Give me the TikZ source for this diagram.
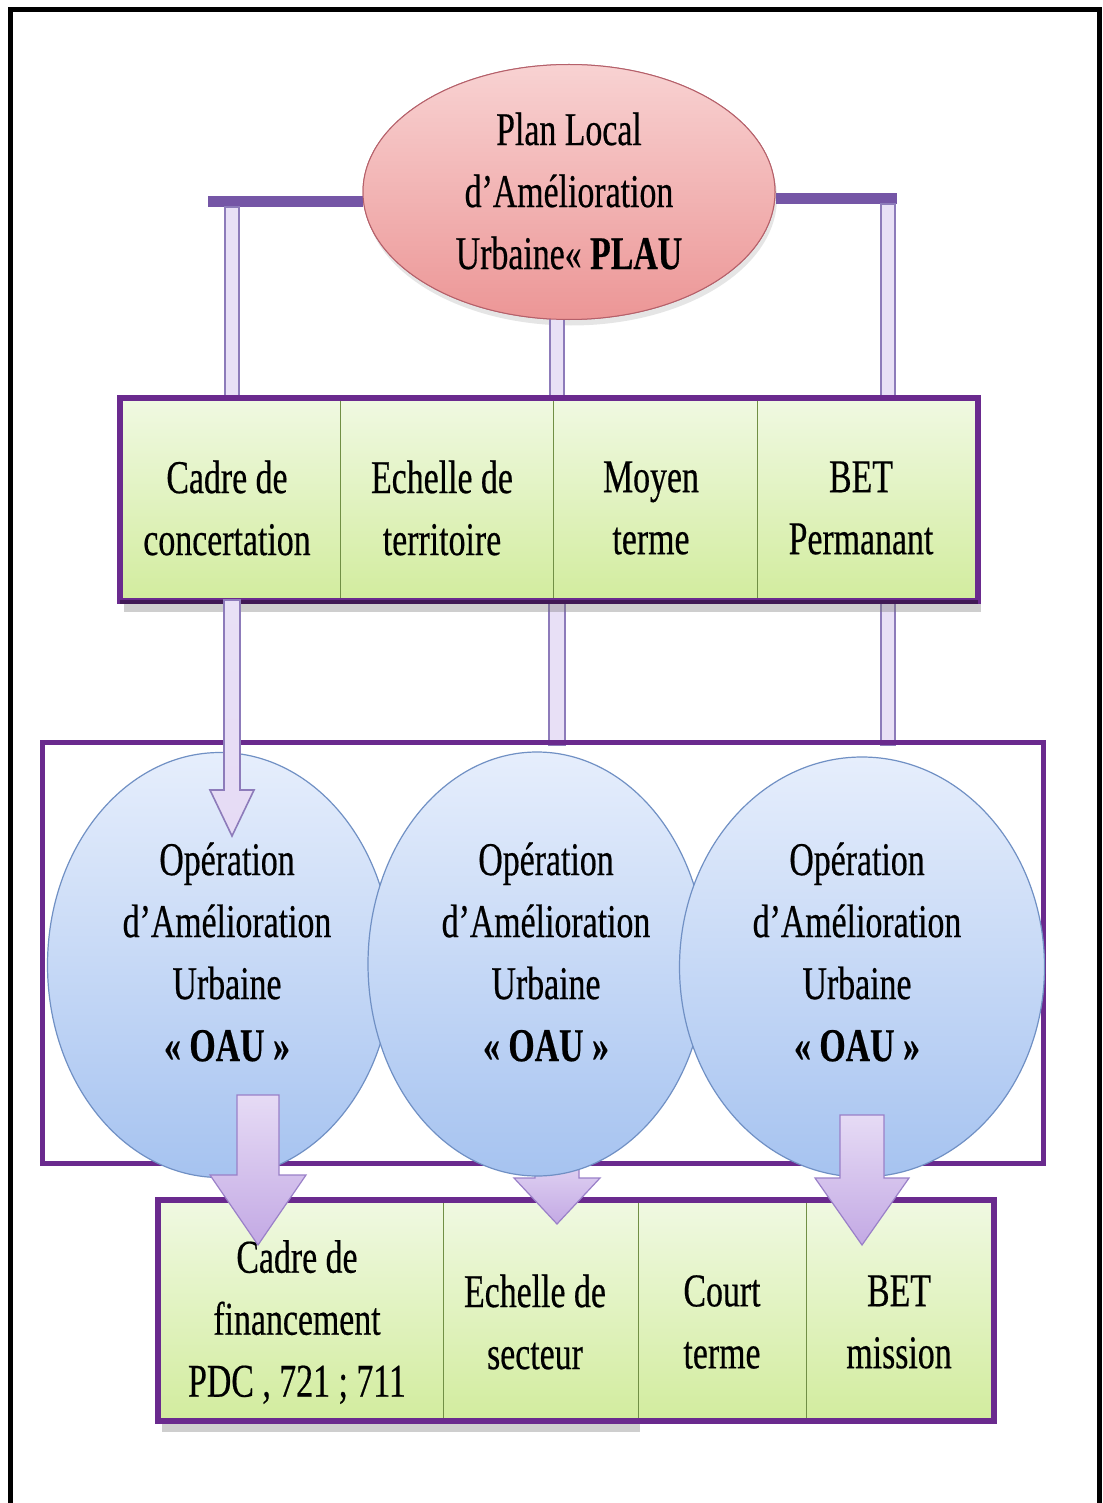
\documentclass[tikz,border=0pt]{standalone}
\usepackage{fontspec}
\newfontfamily\tf{Liberation Serif}[FakeStretch=0.72,FakeBold=0.4]
\usetikzlibrary{calc,shadows,shapes.geometric}
\definecolor{purp}{HTML}{6A2A8E}
\definecolor{barp}{HTML}{7556A6}
\definecolor{connf}{HTML}{E8E0F6}
\definecolor{conne}{HTML}{8D7BBA}
\definecolor{gtop}{HTML}{F0F9E2}
\definecolor{gbot}{HTML}{D2EC9E}
\definecolor{gline}{HTML}{718F45}
\definecolor{ptop}{HTML}{F8D2D2}
\definecolor{pbot}{HTML}{EC9696}
\definecolor{pedge}{HTML}{B5606A}
\definecolor{btop}{HTML}{E6EEFC}
\definecolor{bbot}{HTML}{A6C3F0}
\definecolor{bedge}{HTML}{7090C4}
\definecolor{atop}{HTML}{E6DBF5}
\definecolor{abot}{HTML}{C3A9E4}
\definecolor{aedge}{HTML}{9A80C8}
\tikzset{
  txt/.style={font=\tf\fontsize{47}{62}\selectfont, align=center, inner sep=0pt},
  cell/.style={draw=gline, line width=1.2pt, top color=gtop, bottom color=gbot, inner sep=0pt, anchor=north west},
  boxframe/.style={draw=purp, line width=6pt},
  conn/.style={fill=connf, draw=conne, line width=2pt},
  bar/.style={draw=barp, line width=11pt},
  blk/.style={top color=atop, bottom color=abot, draw=aedge, line width=1.2pt},
  oau/.style={ellipse, draw=bedge, line width=1.2pt, top color=btop, bottom color=bbot, inner sep=0pt}
}
\begin{document}
\begin{tikzpicture}[x=1pt,y=-1pt]
\useasboundingbox (0,0) rectangle (1102,1503);
\fill[white] (0,0) rectangle (1102,1503);
% outer frame
\coordinate (fbl) at (10.5,1503);
\coordinate (ftl) at (10.5,9.5);
\coordinate (ftr) at (1099.5,9.5);
\coordinate (fbr) at (1099.5,1503);
\draw[line width=5pt, black] (fbl) -- (ftl) -- (ftr) -- (fbr);

% upper connector anchors
\coordinate (bl) at (208,202);
\coordinate (br) at (897,199);
\coordinate (vl) at (232,207);
\coordinate (vr) at (888,204);
\coordinate (vlb) at (232,398);
\coordinate (vrb) at (888,398);
\coordinate (vm) at (557,300);
\coordinate (vmb) at (557,398);

% ellipse
\node[ellipse, minimum width=412pt, minimum height=255pt, inner sep=0pt,
      draw=pedge, line width=1pt, top color=ptop, bottom color=pbot,
      drop shadow={shadow xshift=2pt, shadow yshift=-6pt, opacity=0.2, fill=black!50}] (plau) at (569,192) {};

\draw[bar] (bl) -- (plau.west |- bl);
\draw[bar] (br) -- (plau.east |- br);
\draw[conn] ($(vl)+(-7,0)$) rectangle ($(vlb)+(7,0)$);
\draw[conn] ($(vr)+(-7,0)$) rectangle ($(vrb)+(7,0)$);
\draw[conn] ($(vm)+(-7,0)$) rectangle ($(vmb)+(7,0)$);

% redraw ellipse on top of bars
\node[ellipse, minimum width=412pt, minimum height=255pt, inner sep=0pt,
      draw=pedge, line width=1pt, top color=ptop, bottom color=pbot] (plau2) at (569,192) {};
\node[txt] (plaut) at (569,191) {Plan Local\\d’Amélioration\\Urbaine« \textbf{PLAU}};

% connectors from top box to middle box
\coordinate (mt) at (557,600);
\coordinate (mb) at (557,745);
\coordinate (rt) at (888,600);
\coordinate (rb) at (888,745);
\draw[conn] ($(mt)+(-8,0)$) rectangle ($(mb)+(8,0)$);
\draw[conn] ($(rt)+(-7,0)$) rectangle ($(rb)+(7,0)$);

% top box
\fill[black!55, opacity=0.35] (124,604) rectangle (981,612);
\node[cell, minimum width=220pt, minimum height=202pt] (t1) at (120,398) {};
\node[cell, minimum width=213pt, minimum height=202pt] (t2) at (340,398) {};
\node[cell, minimum width=204pt, minimum height=202pt] (t3) at (553,398) {};
\node[cell, minimum width=220pt, minimum height=202pt] (t4) at (757,398) {};
\draw[boxframe] (t1.north west) rectangle (t4.south east);
\draw[draw=purp!60!black, line width=4pt] ($(t1.south west)+(0,1)$) -- ($(t4.south east)+(0,1)$);
\node[txt] (t1t) at (227,508) {Cadre de\\concertation};
\node[txt] (t2t) at (442,508) {Echelle de\\territoire};
\node[txt] (t3t) at (651,508) {Moyen\\terme};
\node[txt] (t4t) at (861,508) {BET\\Permanant};

% middle box
\draw[boxframe, line width=5pt] (42,742) rectangle (1043,1163);
\coordinate (mbox) at (542,952);

% bottom box
\fill[black!55, opacity=0.35] (162,1424) rectangle (640,1432);
\node[cell, minimum width=285pt, minimum height=220pt] (b1) at (158,1200) {};
\node[cell, minimum width=195pt, minimum height=220pt] (b2) at (443,1200) {};
\node[cell, minimum width=168pt, minimum height=220pt] (b3) at (638,1200) {};
\node[cell, minimum width=187pt, minimum height=220pt] (b4) at (806,1200) {};
\draw[boxframe] (b1.north west) rectangle (b4.south east);
\node[txt] (b1t) at (297,1322) {Cadre de\\financement\\PDC , 721 ; 711};
\node[txt] (b2t) at (535,1322) {Echelle de\\secteur};
\node[txt] (b3t) at (722,1322) {Court\\terme};
\node[txt] (b4t) at (899,1322) {BET\\mission};

% middle block arrow (behind circle 2)
\coordinate (s2) at (557,1150);
\coordinate (h2) at (557,1178);
\coordinate (p2) at (557,1224);
\draw[blk] ($(s2)+(-22,0)$) -- ($(h2)+(-22,0)$) -- ($(h2)+(-43,0)$) -- (p2) -- ($(h2)+(43,0)$) -- ($(h2)+(22,0)$) -- ($(s2)+(22,0)$) -- cycle;

% circles
\node[oau, minimum width=345pt, minimum height=425pt] (c1) at (220,965) {};
\node[oau, minimum width=338pt, minimum height=424pt] (c2) at (537,964) {};
\node[oau, minimum width=365pt, minimum height=420pt] (c3) at (862,967) {};
\node[txt] (c1t) at (227,952) {Opération\\d’Amélioration\\Urbaine\\\textbf{« OAU »}};
\node[txt] (c2t) at (546,952) {Opération\\d’Amélioration\\Urbaine\\\textbf{« OAU »}};
\node[txt] (c3t) at (857,952) {Opération\\d’Amélioration\\Urbaine\\\textbf{« OAU »}};

% small arrow from top box into circle 1
\coordinate (la) at (232,600);
\coordinate (lh) at (232,790);
\coordinate (lp) at (232,836);
\draw[blk, top color=connf, bottom color=atop, draw=conne, line width=1.6pt]
  ($(la)+(-8,0)$) -- ($(lh)+(-8,0)$) -- ($(lh)+(-22,0)$) -- (lp) -- ($(lh)+(22,0)$) -- ($(lh)+(8,0)$) -- ($(la)+(8,0)$) -- cycle;

% left and right block arrows
\coordinate (s1) at (258,1095);
\coordinate (h1) at (258,1175);
\coordinate (p1) at (258,1245);
\draw[blk] ($(s1)+(-21,0)$) -- ($(h1)+(-21,0)$) -- ($(h1)+(-48,0)$) -- (p1) -- ($(h1)+(48,0)$) -- ($(h1)+(21,0)$) -- ($(s1)+(21,0)$) -- cycle;
\coordinate (s3) at (862,1115);
\coordinate (h3) at (862,1178);
\coordinate (p3) at (862,1245);
\draw[blk] ($(s3)+(-22,0)$) -- ($(h3)+(-22,0)$) -- ($(h3)+(-47,0)$) -- (p3) -- ($(h3)+(47,0)$) -- ($(h3)+(22,0)$) -- ($(s3)+(22,0)$) -- cycle;
\end{tikzpicture}
\end{document}
